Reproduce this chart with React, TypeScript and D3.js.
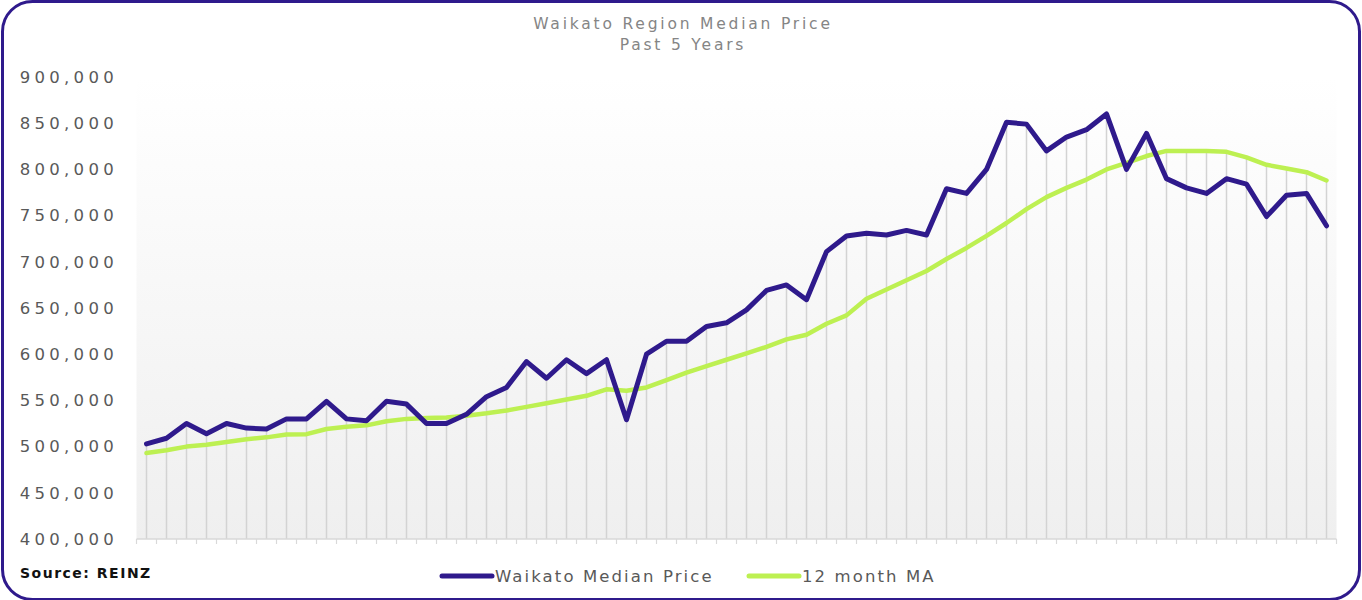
import React from "react";
import * as d3 from "d3";

const medianPrice: number[] = [
  503000, 509000, 525000, 514000, 525000, 520000, 519000, 530000, 530000, 549000,
  530000, 528000, 549000, 546000, 525000, 525000, 535000, 554000, 564000, 592000,
  574000, 594000, 579000, 594000, 529000, 600000, 614000, 614000, 630000, 634000,
  648000, 669000, 675000, 659000, 711000, 728000, 731000, 729000, 734000, 729000,
  779000, 774000, 800000, 851000, 849000, 820000, 835000, 843000, 860000, 800000,
  839000, 790000, 780000, 774000, 790000, 784000, 749000, 772000, 774000, 739000,
];

const movingAverage: number[] = [
  493000, 496000, 500000, 502000, 505000, 508000, 510000, 513000, 513500, 519000,
  521500, 523000, 527500, 530000, 531000, 531500, 533500, 536000, 539000, 543000,
  547000, 551000, 555000, 562000, 560500, 564000, 572000, 580000, 587000, 594000,
  601000, 608000, 616000, 621000, 633000, 642000, 660000, 670000, 680000, 690000,
  703000, 715000, 728000, 742000, 757000, 770000, 780000, 789000, 800000, 807000,
  814500, 820000, 820000, 820000, 819000, 813000, 805000, 801000, 797000, 788000,
];

const categories: number[] = medianPrice.map((_, i) => i);
const yTicks: number[] = [400000, 450000, 500000, 550000, 600000, 650000, 700000, 750000, 800000, 850000, 900000];
const seriesNames: string[] = ["Waikato Median Price", "12 month MA"];
const titleLines: string[] = ["Waikato Region Median Price", "Past 5 Years"];

const PURPLE = "#2f1a8c";
const GREEN = "#bdf052";

export default function App() {
  const W = 1362;
  const H = 600;
  const left = 136.5;
  const right = 1336.5;
  const top = 77;
  const bottom = 539;

  const x = d3.scaleBand<number>().domain(categories).range([left, right]).padding(0);
  const y = d3.scaleLinear().domain([400000, 900000]).range([bottom, top]);
  const cx = (i: number) => (x(i) as number) + x.bandwidth() / 2;

  const line = d3
    .line<number>()
    .x((_, i) => cx(i))
    .y((d) => y(d));

  const fmt = d3.format(",");
  const font = "DejaVu Sans, sans-serif";

  return (
    <div>
      <style>{`body{margin:0}`}</style>
      <svg width={W} height={H} style={{ display: "block" }}>
        <defs>
          <linearGradient id="bg" x1="0" y1="0" x2="0" y2="1">
            <stop offset="0" stopColor="#ffffff" />
            <stop offset="1" stopColor="#efefef" />
          </linearGradient>
        </defs>
        <rect x={0} y={0} width={W} height={H} fill="#ffffff" />
        <rect x={left} y={top} width={right - left} height={bottom - top} fill="url(#bg)" />

        {/* drop lines */}
        {categories.map((c) => (
          <line
            key={"d" + c}
            x1={cx(c)}
            x2={cx(c)}
            y1={y(Math.max(medianPrice[c], movingAverage[c]))}
            y2={bottom}
            stroke="#d3d3d3"
            strokeWidth={1.5}
          />
        ))}

        {/* x axis */}
        <line x1={left} x2={right} y1={bottom} y2={bottom} stroke="#d9d9d9" strokeWidth={1.5} />
        {categories.concat([categories.length]).map((c) => (
          <line
            key={"t" + c}
            x1={left + c * x.bandwidth()}
            x2={left + c * x.bandwidth()}
            y1={bottom}
            y2={bottom + 5}
            stroke="#d9d9d9"
            strokeWidth={1.2}
          />
        ))}

        {/* y labels */}
        {yTicks.map((t) => (
          <text
            key={"y" + t}
            x={118}
            y={y(t)}
            dy="0.35em"
            textAnchor="end"
            fontFamily={font}
            fontSize={16.5}
            letterSpacing={4.3}
            fill="#595959"
          >
            {fmt(t)}
          </text>
        ))}

        {/* series */}
        <path d={line(movingAverage) || ""} fill="none" stroke={GREEN} strokeWidth={4.5} strokeLinejoin="round" strokeLinecap="round" />
        <path d={line(medianPrice) || ""} fill="none" stroke={PURPLE} strokeWidth={5} strokeLinejoin="round" strokeLinecap="round" />

        {/* title */}
        {titleLines.map((t, i) => (
          <text
            key={"ti" + i}
            x={683}
            y={24 + i * 21}
            dy="0.35em"
            textAnchor="middle"
            fontFamily={font}
            fontSize={15.5}
            letterSpacing={2.8}
            fill="#858585"
          >
            {t}
          </text>
        ))}

        {/* source */}
        <text x={20} y={573} dy="0.35em" fontFamily={font} fontWeight="bold" fontSize={14} letterSpacing={1.5} fill="#111111">
          Source: REINZ
        </text>

        {/* legend */}
        {seriesNames.map((n, i) => {
          const lx = i === 0 ? 442 : 749;
          const col = i === 0 ? PURPLE : GREEN;
          return (
            <g key={"lg" + i}>
              <line x1={lx} x2={lx + 50} y1={576} y2={576} stroke={col} strokeWidth={5} strokeLinecap="round" />
              <text x={lx + 53} y={576} dy="0.35em" fontFamily={font} fontSize={16.5} letterSpacing={2.1} fill="#595959">
                {n}
              </text>
            </g>
          );
        })}

        {/* border */}
        <rect x={2.5} y={1.5} width={W - 5} height={H - 2} rx={30} ry={30} fill="none" stroke={PURPLE} strokeWidth={3} />
      </svg>
    </div>
  );
}
